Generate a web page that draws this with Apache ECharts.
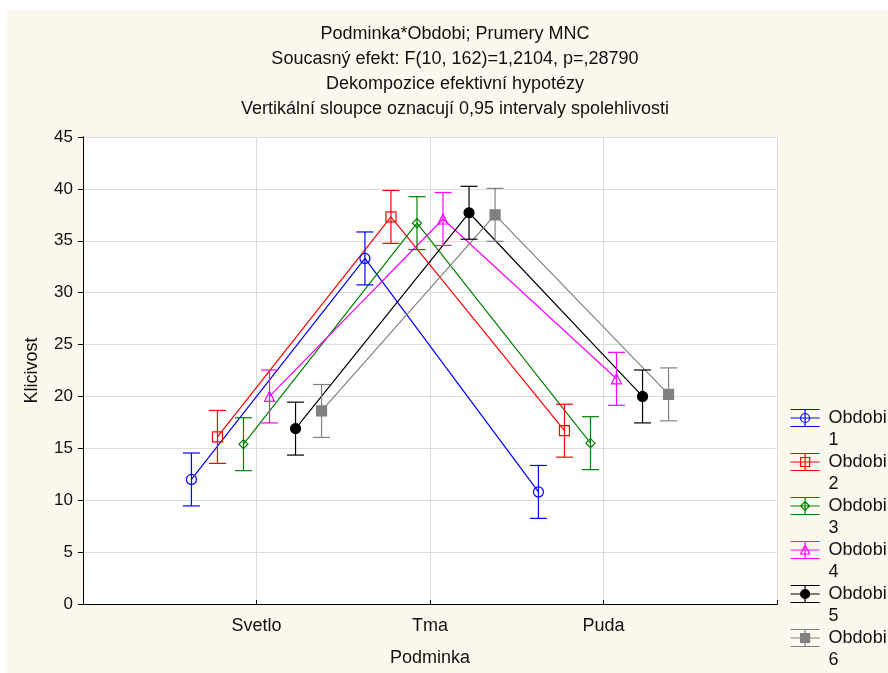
<!DOCTYPE html>
<html>
<head>
<meta charset="utf-8">
<script src="https://cdn.jsdelivr.net/npm/echarts@6/dist/echarts.min.js"></script>
<style>
  html, body { margin: 0; padding: 0; background: #fff; }
  #main { width: 888px; height: 673px; }
</style>
</head>
<body>
<div id="main"></div>
<script>
var categories = ['Svetlo', 'Tma', 'Puda'];
var seriesNames = ['Obdobi 1', 'Obdobi 2', 'Obdobi 3', 'Obdobi 4', 'Obdobi 5', 'Obdobi 6'];
// means per period, in order Svetlo, Tma, Puda
var obdobi1 = [12.0, 33.3, 10.8];
var obdobi2 = [16.1, 37.3, 16.7];
var obdobi3 = [15.4, 36.7, 15.5];
var obdobi4 = [20.0, 37.1, 21.7];
var obdobi5 = [16.9, 37.7, 20.0];
var obdobi6 = [18.6, 37.5, 20.2];
// half width of the 0.95 confidence interval
var ciHalf = [2.55, 2.55, 2.55, 2.55, 2.55, 2.55];
var yTicks = [0, 5, 10, 15, 20, 25, 30, 35, 40, 45];

var means = [obdobi1, obdobi2, obdobi3, obdobi4, obdobi5, obdobi6];
var colors = ['#0000ff', '#ff0000', '#008000', '#ff00ff', '#000000', '#808080'];
var symbols = ['circle', 'rect', 'diamond', 'triangle', 'circle', 'rect'];
var filled = [false, false, false, false, true, true];
var symbolSizes = [10, 10, 9, 10, 10, 10];
var font = "'Liberation Sans', Arial, sans-serif";
var dodge = 0.15;
var lw = 1.2;

// legend icon: error bar glyph in the top part, empty space below so the
// glyph lines up with the first text line
var bars = 'M0 0 H29 M0 8.5 H29 M0 17 H29 M14.5 0 V17 M0 39 L0.001 39 ';
var marks = {
  circle: 'M19 8.5 A4.5 4.5 0 1 1 10 8.5 A4.5 4.5 0 1 1 19 8.5 Z',
  rect: 'M10 4 H19 V13 H10 Z',
  diamond: 'M14.5 4 L19 8.5 L14.5 13 L10 8.5 Z',
  triangle: 'M14.5 3.5 L19 12.5 L10 12.5 Z'
};

function renderBar(params, api) {
  var x = api.value(0);
  var lo = api.coord([x, api.value(1)]);
  var hi = api.coord([x, api.value(2)]);
  var c = api.visual('color');
  var w = 8.5;
  var st = { stroke: c, lineWidth: lw };
  return {
    type: 'group',
    children: [
      { type: 'line', shape: { x1: lo[0], y1: lo[1], x2: hi[0], y2: hi[1] }, style: st },
      { type: 'line', shape: { x1: lo[0] - w, y1: lo[1], x2: lo[0] + w, y2: lo[1] }, style: st },
      { type: 'line', shape: { x1: hi[0] - w, y1: hi[1], x2: hi[0] + w, y2: hi[1] }, style: st }
    ]
  };
}

var chart = echarts.init(document.getElementById('main'));

var series = [];
var legendData = [];
seriesNames.forEach(function(name, i) {
  var off = (i - 2.5) * dodge;
  var pts = means[i].map(function(v, k) { return [k + 1 + off, v]; });
  var errs = means[i].map(function(v, k) { return [k + 1 + off, v - ciHalf[i], v + ciHalf[i]]; });
  series.push({
    name: name,
    type: 'line',
    data: pts,
    symbol: symbols[i],
    symbolSize: symbolSizes[i],
    showAllSymbol: true,
    lineStyle: { color: colors[i], width: lw },
    itemStyle: {
      color: filled[i] ? colors[i] : 'rgba(0,0,0,0)',
      borderColor: colors[i],
      borderWidth: lw
    },
    emphasis: { disabled: true },
    z: 3
  });
  series.push({
    name: name,
    type: 'custom',
    renderItem: renderBar,
    data: errs,
    encode: { x: 0, y: [1, 2] },
    itemStyle: { color: colors[i] },
    z: 4
  });
  legendData.push({
    name: name,
    icon: 'path://' + bars + marks[symbols[i]],
    itemStyle: {
      color: filled[i] ? colors[i] : 'rgba(0,0,0,0)',
      borderColor: colors[i],
      borderWidth: lw
    }
  });
});

var option = {
  animation: false,
  backgroundColor: '#ffffff',
  graphic: [{
    type: 'rect',
    z: -10,
    silent: true,
    shape: { x: 7, y: 10, width: 900, height: 680 },
    style: { fill: '#fdf8ee' }
  }],
  title: {
    text: 'Podminka*Obdobi; Prumery MNC\nSoucasný efekt: F(10, 162)=1,2104, p=,28790\nDekompozice efektivní hypotézy\nVertikální sloupce oznacují 0,95 intervaly spolehlivosti',
    left: 455,
    top: 22,
    padding: 0,
    textAlign: 'center',
    textStyle: {
      fontFamily: font,
      fontSize: 18,
      fontWeight: 'normal',
      lineHeight: 25,
      color: '#111'
    }
  },
  legend: {
    orient: 'vertical',
    left: 790,
    top: 407,
    padding: 0,
    itemGap: 0,
    itemWidth: 29,
    itemHeight: 39,
    data: legendData,
    formatter: function(name) { return name.replace(' ', '\n'); },
    textStyle: {
      fontFamily: font,
      fontSize: 18,
      lineHeight: 22,
      color: '#111',
      padding: [0, 0, 0, 4]
    }
  },
  grid: {
    left: 83,
    right: 111,
    top: 137,
    bottom: 69,
    show: true,
    backgroundColor: '#ffffff',
    borderWidth: 0
  },
  xAxis: [{
    type: 'value',
    min: 0,
    max: categories.length + 1,
    interval: 1,
    name: 'Podminka',
    nameLocation: 'middle',
    nameGap: 45,
    nameTextStyle: { fontFamily: font, fontSize: 18, color: '#111' },
    axisLine: { lineStyle: { color: '#000', width: 1 } },
    axisTick: { inside: true, length: 4, lineStyle: { color: '#000' } },
    axisLabel: {
      margin: 13,
      fontFamily: font,
      fontSize: 18,
      color: '#111',
      formatter: function(v) { return categories[v - 1] || ''; }
    },
    splitLine: { show: true, lineStyle: { color: '#dcdcdc', width: 1 } }
  }, {
    type: 'value',
    position: 'top',
    min: 0,
    max: categories.length + 1,
    interval: 1,
    axisLine: { lineStyle: { color: '#000', width: 1 } },
    axisTick: { length: 4, lineStyle: { color: '#000' } },
    axisLabel: { show: false },
    splitLine: { show: false }
  }],
  yAxis: [{
    type: 'value',
    min: yTicks[0],
    max: yTicks[yTicks.length - 1],
    interval: yTicks[1] - yTicks[0],
    name: 'Klicivost',
    nameLocation: 'middle',
    nameGap: 42,
    nameTextStyle: { fontFamily: font, fontSize: 18, color: '#111' },
    axisLine: { show: true, lineStyle: { color: '#000', width: 1 } },
    axisTick: { show: true, length: 5, lineStyle: { color: '#000' } },
    axisLabel: { margin: 10, fontFamily: font, fontSize: 17, color: '#111' },
    splitLine: { show: true, lineStyle: { color: '#dcdcdc', width: 1 } }
  }, {
    type: 'value',
    position: 'right',
    min: yTicks[0],
    max: yTicks[yTicks.length - 1],
    interval: yTicks[1] - yTicks[0],
    axisLine: { show: true, lineStyle: { color: '#000', width: 1 } },
    axisTick: { show: true, inside: true, length: 5, lineStyle: { color: '#000' } },
    axisLabel: { show: false },
    splitLine: { show: false }
  }],
  series: series
};

chart.setOption(option);
</script>
</body>
</html>
